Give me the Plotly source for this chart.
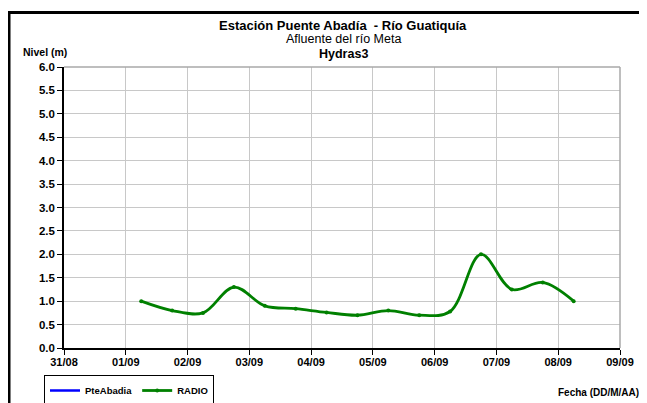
import plotly.graph_objects as go

# Data
radio_dates = ["2013-09-01 06:00", "2013-09-01 18:00", "2013-09-02 06:00", "2013-09-02 18:00",
               "2013-09-03 06:00", "2013-09-03 18:00", "2013-09-04 06:00", "2013-09-04 18:00",
               "2013-09-05 06:00", "2013-09-05 18:00", "2013-09-06 06:00", "2013-09-06 18:00",
               "2013-09-07 06:00", "2013-09-07 18:00", "2013-09-08 06:00"]
radio_values = [1.0, 0.8, 0.75, 1.3, 0.9, 0.84, 0.76, 0.7, 0.8, 0.7, 0.78, 2.0, 1.25, 1.4, 1.0]
pte_dates = [None]
pte_values = [None]
tick_dates = ["2013-08-31", "2013-09-01", "2013-09-02", "2013-09-03", "2013-09-04",
              "2013-09-05", "2013-09-06", "2013-09-07", "2013-09-08", "2013-09-09"]
tick_labels = ["31/08", "01/09", "02/09", "03/09", "04/09", "05/09", "06/09", "07/09", "08/09", "09/09"]
y_ticks = [0.0, 0.5, 1.0, 1.5, 2.0, 2.5, 3.0, 3.5, 4.0, 4.5, 5.0, 5.5, 6.0]

FONT = "Liberation Sans, Arial, sans-serif"

fig = go.Figure()
fig.add_trace(go.Scatter(x=pte_dates, y=pte_values, name="PteAbadia", mode="lines",
                         line=dict(color="#0000FF", width=2.5)))
fig.add_trace(go.Scatter(x=radio_dates, y=radio_values, name="RADIO", mode="lines+markers",
                         line=dict(color="#008000", width=2.8, shape="spline", smoothing=1.0),
                         marker=dict(color="#008000", size=4)))

# page offset from default body margin
OFF = 8
W, H = 647 - OFF, 403 - OFF
# plot area in page coordinates
L, R, T, B = 64, 620, 67, 348
pw, ph = R - L, B - T

def px(x):
    return (x - L) / pw

def py(y):
    return (B - y) / ph

fig.update_layout(
    width=W, height=H,
    margin=dict(l=L - OFF, r=647 - R, t=T - OFF, b=403 - B, autoexpand=False),
    paper_bgcolor="white", plot_bgcolor="white",
    font=dict(family=FONT, size=11, color="black"),
    showlegend=True,
    legend=dict(orientation="h", x=px(44), y=py(375), xanchor="left", yanchor="top",
                bordercolor="black", borderwidth=1, bgcolor="white",
                font=dict(family=FONT, size=9.5, color="black", weight="bold"),
                itemwidth=30, tracegroupgap=0),
    xaxis=dict(type="date", range=["2013-08-31", "2013-09-09"],
               tickvals=tick_dates, ticktext=tick_labels,
               showgrid=True, gridcolor="#c8c8c8", gridwidth=1,
               showline=True, linecolor="black", linewidth=1.5,
               ticks="outside", ticklen=5, tickcolor="black", ticklabelstandoff=-2,
               tickfont=dict(family=FONT, size=11, weight="bold"), zeroline=False),
    yaxis=dict(range=[0, 6], tickvals=y_ticks, tickformat=".1f",
               showgrid=True, gridcolor="#c8c8c8", gridwidth=1,
               showline=True, linecolor="black", linewidth=1.5,
               ticks="outside", ticklen=5, tickcolor="black",
               tickfont=dict(family=FONT, size=11.5, weight="bold"), zeroline=False),
    shapes=[
        dict(type="line", xref="paper", yref="paper", x0=0, x1=1, y0=1, y1=1,
             line=dict(color="#a8a8a8", width=1.5)),
        dict(type="line", xref="paper", yref="paper", x0=1, x1=1, y0=0, y1=1,
             line=dict(color="#a8a8a8", width=1.5)),
        dict(type="line", xref="paper", yref="paper", x0=px(7), x1=px(660), y0=py(12.5), y1=py(12.5),
             line=dict(color="black", width=3)),
        dict(type="line", xref="paper", yref="paper", x0=px(9), x1=px(9), y0=py(11), y1=py(420),
             line=dict(color="black", width=3)),
    ],
    annotations=[
        dict(text="Estación Puente Abadía  - Río Guatiquía", xref="paper", yref="paper",
             x=px(343), y=py(25), showarrow=False, xanchor="center", yanchor="middle",
             font=dict(family=FONT, size=13, weight="bold")),
        dict(text="Afluente del río Meta", xref="paper", yref="paper",
             x=px(343), y=py(39.5), showarrow=False, xanchor="center", yanchor="middle",
             font=dict(family=FONT, size=12.5)),
        dict(text="Hydras3", xref="paper", yref="paper",
             x=px(343), y=py(53.5), showarrow=False, xanchor="center", yanchor="middle",
             font=dict(family=FONT, size=12.5, weight="bold")),
        dict(text="Nivel (m)", xref="paper", yref="paper",
             x=px(21), y=py(52), showarrow=False, xanchor="left", yanchor="middle",
             font=dict(family=FONT, size=10.5, weight="bold")),
        dict(text="Fecha (DD/M/AA)", xref="paper", yref="paper",
             x=px(641), y=py(392), showarrow=False, xanchor="right", yanchor="middle",
             font=dict(family=FONT, size=10, weight="bold")),
    ],
)

fig.write_html("out.html")
